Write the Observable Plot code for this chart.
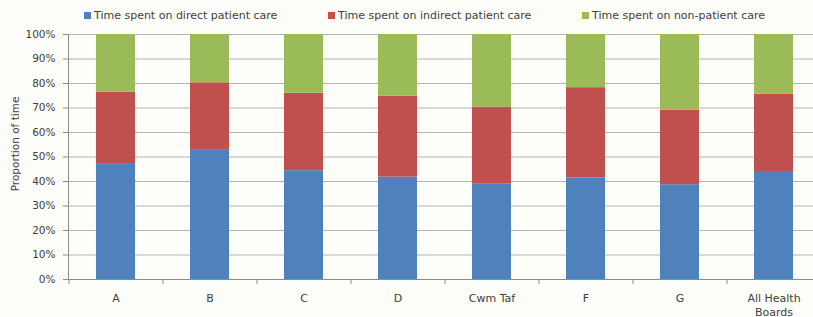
<!DOCTYPE html>
<html><head><meta charset="utf-8">
<script src="https://cdn.jsdelivr.net/npm/d3@7"></script>
<script src="https://cdn.jsdelivr.net/npm/@observablehq/plot@0.6"></script>
<style>
html,body{margin:0;background:#fdfdf9;overflow:hidden;font-family:"DejaVu Sans",sans-serif;}
#wrap{position:relative;width:813px;height:317px;overflow:hidden;}
#legend{position:absolute;left:0;top:0;width:813px;height:26px;}
.item{position:absolute;top:9px;font-size:11px;color:#404040;white-space:nowrap;line-height:14px}
.sw{display:inline-block;width:7px;height:7px;margin-right:3px;vertical-align:0px}
#chart{position:absolute;left:0;top:26px;width:840px}
</style></head><body>
<div id="wrap"><div id="legend"></div><div id="chart"></div></div>
<script>
const categories = ["A","B","C","D","Cwm Taf","F","G","All Health Boards"];
const tickLabels = ["A","B","C","D","Cwm Taf","F","G","All Health\nBoards"];
const seriesNames = ["Time spent on direct patient care","Time spent on indirect patient care","Time spent on non-patient care"];
const direct = [47.0,52.7,44.4,41.8,39.1,41.4,38.7,43.7];
const indirect = [29.5,27.6,31.6,33.0,31.3,36.9,30.4,31.9];
const nonPatient = [23.5,19.7,24.0,25.2,29.6,21.7,30.9,24.4];
const yTicks = [0,10,20,30,40,50,60,70,80,90,100];
const colors = ["#4F81BD","#C0504D","#9BBB59"];
const legendLeft = [84,328,582];

const series = [direct, indirect, nonPatient];
const rows = [];
series.forEach((vals, s) => vals.forEach((v, i) => rows.push({category: categories[i], series: seriesNames[s], value: v})));

const legend = document.getElementById("legend");
seriesNames.forEach((name, i) => {
  const d = document.createElement("div");
  d.className = "item";
  d.style.left = legendLeft[i] + "px";
  d.innerHTML = `<span class="sw" style="background:${colors[i]}"></span>${name}`;
  legend.appendChild(d);
});

const axisColor = "#8c8c8c";
const textColor = "#404040";
const chart = Plot.plot({
  width: 840, height: 291,
  marginLeft: 68, marginRight: 0, marginTop: 8, marginBottom: 38,
  style: {background: "transparent", fontFamily: "DejaVu Sans, sans-serif", fontSize: "10px", color: textColor, maxWidth: "none"},
  x: {domain: categories, range: [68, 821], paddingInner: 0.585, paddingOuter: 0.2925, align: 0.5},
  y: {domain: [0, 100]},
  color: {domain: seriesNames, range: colors},
  marks: [
    Plot.gridY(yTicks, {stroke: "#b4b4b4", strokeOpacity: 1}),
    Plot.barY(rows, {x: "category", y: "value", fill: "series"}),
    Plot.frame({anchor: "left", stroke: axisColor}),
    Plot.ruleY([0], {stroke: axisColor}),
    Plot.axisY(yTicks, {tickFormat: d => d + "%", tickSize: 5, tickPadding: 8, stroke: axisColor, fill: textColor, label: null, fontSize: 10.5}),
    Plot.axisX(categories, {tickSize: 5, text: null, dx: -47, stroke: axisColor, label: null}),
    Plot.axisX(categories, {tickSize: 0, tickPadding: 12, tickFormat: d => tickLabels[categories.indexOf(d)], fill: textColor, label: null, fontSize: 11, lineHeight: 1.3}),
    Plot.text(["Proportion of time"], {frameAnchor: "left", textAnchor: "middle", rotate: -90, dx: -53, dy: -13, fill: textColor, fontSize: 10.5})
  ]
});
document.getElementById("chart").appendChild(chart);
</script>
</body></html>
